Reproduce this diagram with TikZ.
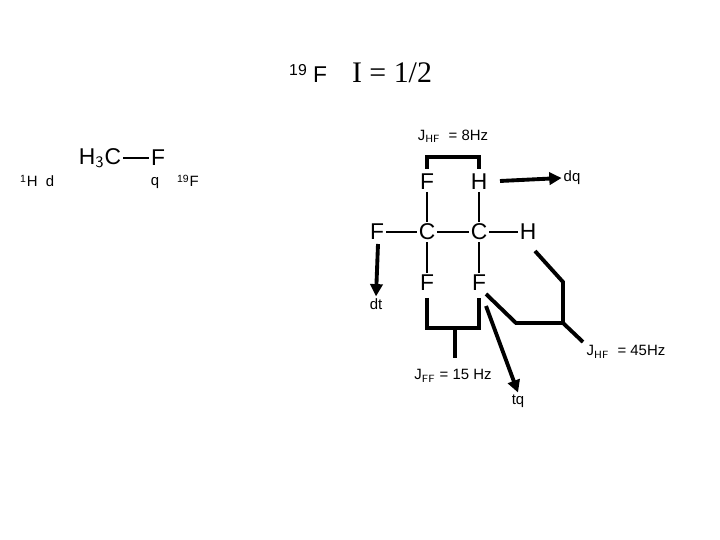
\documentclass[tikz,border=0pt]{standalone}
\usepackage{fontspec}
\usetikzlibrary{arrows.meta}
\setmainfont{Liberation Sans}
\newfontfamily\seriff{Liberation Serif}
\begin{document}
\begin{tikzpicture}[x=0.02cm,y=-0.02cm,
 atom/.style={inner sep=1pt,font=\fontsize{13}{13}\selectfont},
 lab/.style={inner sep=1pt,font=\fontsize{8.5}{9}\selectfont},
 thick line/.style={line width=2.2pt},
 bond/.style={line width=0.8pt},
 arr/.style={line width=2.2pt,-{Triangle[length=7pt,width=7pt]}}]
\useasboundingbox (0,0) rectangle (720,540);
\node[inner sep=0,anchor=base,font=\fontsize{9}{9}\selectfont] (s19) at (298,76) {19};
\node[anchor=base,inner sep=0,font=\fontsize{13}{13}\selectfont] (fF) at (320,83) {F};
\node[anchor=base,inner sep=0,font=\seriff\fontsize{17}{17}\selectfont] (spin) at (392,83) {I = 1/2};
% methyl fluoride
\node[atom] (h3c) at (100,158) {H$_{\mathsf 3}$C};
\node[atom] (mf) at (158,158) {F};
\draw[bond] (h3c) -- (mf);
\node[lab,anchor=base west] (h1) at (18,187) {\textsuperscript{1}H\ \ d};
\node[lab] (q) at (155,183) {q};
\node[lab,anchor=base west] (f19) at (175,187) {\textsuperscript{19}F};
% molecule
\node[atom] (Ft) at (427,182) {F};
\node[atom] (Ht) at (479,182) {H};
\node[atom] (C1) at (427,232) {C};
\node[atom] (C2) at (479,232) {C};
\node[atom] (Fl) at (377,232) {F};
\node[atom] (Hr) at (528,232) {H};
\node[atom] (Fb1) at (427,283) {F};
\node[atom] (Fb2) at (479,283) {F};
\draw[bond] (Ft)--(C1) (Ht)--(C2) (Fl)--(C1) (C1)--(C2) (C2)--(Hr) (C1)--(Fb1) (C2)--(Fb2);
% JHF 8
\node[lab] (j8) at (453,136) {J$_{\mathsf{HF}}$\ \ = 8Hz};
\coordinate (b1) at (427,169); \coordinate (b2) at (479,169);
\draw[thick line] (b1) -- (427,157) -- (479,157) -- (b2);
% dq
\coordinate (dqs) at (500,181);
\node[lab] (dq) at (572,178) {dq};
\draw[arr] (dqs) -- (dq.west);
% dt
\coordinate (dts) at (378,244);
\node[lab] (dt) at (376,304) {dt};
\draw[arr] (dts) -- (dt.north);
% JFF
\coordinate (f1) at (427,298); \coordinate (f2) at (479,298); \coordinate (fs) at (455,358);
\draw[thick line] (f1) -- (427,328) -- (479,328) -- (f2);
\draw[thick line] (455,328) -- (fs);
\node[lab] (jff) at (453,376) {J$_{\mathsf{FF}}$ = 15 Hz};
% tq
\coordinate (tqs) at (486,306);
\node[lab] (tq) at (518,401) {tq};
\draw[arr] (tqs) -- (tq.north);
% JHF 45
\coordinate (g1) at (486,294); \coordinate (g2) at (535,251); \coordinate (g3) at (583,342);
\draw[thick line] (g1) -- (516,323) -- (563,323) -- (g3);
\draw[thick line] (g2) -- (563,282) -- (563,323);
\node[lab] (j45) at (626,352) {J$_{\mathsf{HF}}$\ \ = 45Hz};
\end{tikzpicture}
\end{document}
